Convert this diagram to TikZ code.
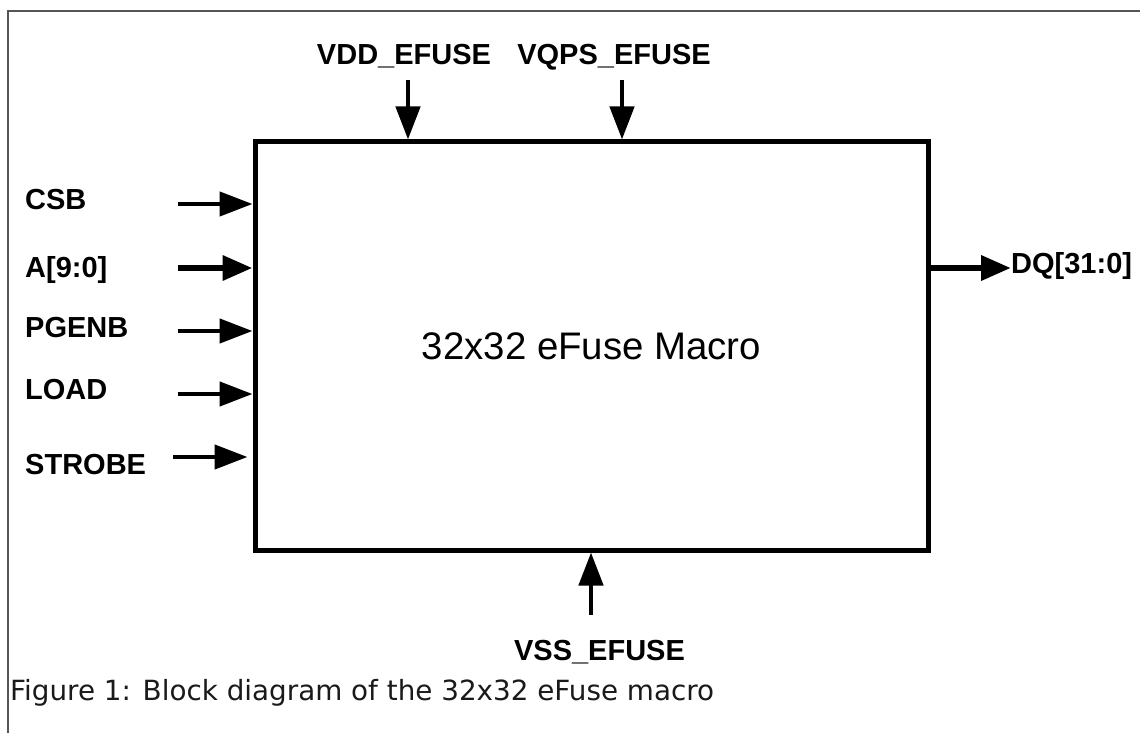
\documentclass[tikz,border=0pt]{standalone}
\usepackage{fontspec}
\setmainfont{Liberation Sans}
\newfontfamily\capfont{DejaVu Sans}
\usetikzlibrary{arrows.meta}
\definecolor{framegray}{HTML}{555555}
\definecolor{captioncol}{HTML}{1A1A1A}
\tikzset{
  sig/.style={line width=4.5pt, -{Triangle[length=33pt,width=24pt]}},
  bus/.style={line width=6.5pt, -{Triangle[length=30pt,width=24pt]}},
  lbl/.style={inner sep=0pt, font=\fontsize{29}{33}\selectfont\bfseries},
  blockbox/.style={draw, line width=5pt, minimum width=673pt, minimum height=408pt,
    inner sep=0pt, font=\fontsize{38.4}{44}\selectfont},
  captext/.style={inner sep=0pt, text=captioncol, font=\capfont\fontsize{27.8}{32}\selectfont}
}
\begin{document}
\begin{tikzpicture}[x=1pt,y=-1pt]
\useasboundingbox (0,0) rectangle (1140,733);
\fill[white] (0,0) rectangle (1140,733);
% frame
\draw[framegray, line width=1.6pt] (8,733) -- (8,11) -- (1140,11);
% block
\node[blockbox] (box) at (591.5,346) {32x32 eFuse Macro};
% left inputs
\node[lbl, anchor=base west] (csb) at (25,209) {CSB};
\node[lbl, anchor=base west] (addr) at (25,277) {A[9:0]};
\node[lbl, anchor=base west] (pgenb) at (25,337) {PGENB};
\node[lbl, anchor=base west] (load) at (25,399) {LOAD};
\node[lbl, anchor=base west] (strobe) at (25,474) {STROBE};
\coordinate (csbS) at (178,204);
\coordinate (addrS) at (178,268);
\coordinate (pgenbS) at (178,331);
\coordinate (loadS) at (178,394);
\coordinate (strobeS) at (173,457);
\draw[sig] (csbS) -- (csbS -| box.west);
\draw[bus] (addrS) -- (addrS -| box.west);
\draw[sig] (pgenbS) -- (pgenbS -| box.west);
\draw[sig] (loadS) -- (loadS -| box.west);
\draw[sig] (strobeS) -- ([xshift=-5pt]strobeS -| box.west);
% top supplies
\node[lbl, anchor=base] (vdd) at (404,65) {VDD\_EFUSE};
\node[lbl, anchor=base] (vqps) at (614,65) {VQPS\_EFUSE};
\coordinate (vddS) at (408,80);
\coordinate (vqpsS) at (622,80);
\draw[sig] (vddS) -- (vddS |- box.north);
\draw[sig] (vqpsS) -- (vqpsS |- box.north);
% output
\node[lbl, anchor=base west] (dq) at (1011,273) {DQ[31:0]};
\draw[bus] (box.east |- addrS) -- (dq.west |- addrS);
% bottom supply
\node[lbl, anchor=base] (vss) at (599.5,660) {VSS\_EFUSE};
\coordinate (vssS) at (591,615);
\draw[sig] (vssS) -- (vssS |- box.south);
% caption
\node[captext, anchor=base west] (cap) at (10,700) {Figure 1: Block diagram of the 32x32 eFuse macro};
\end{tikzpicture}
\end{document}
